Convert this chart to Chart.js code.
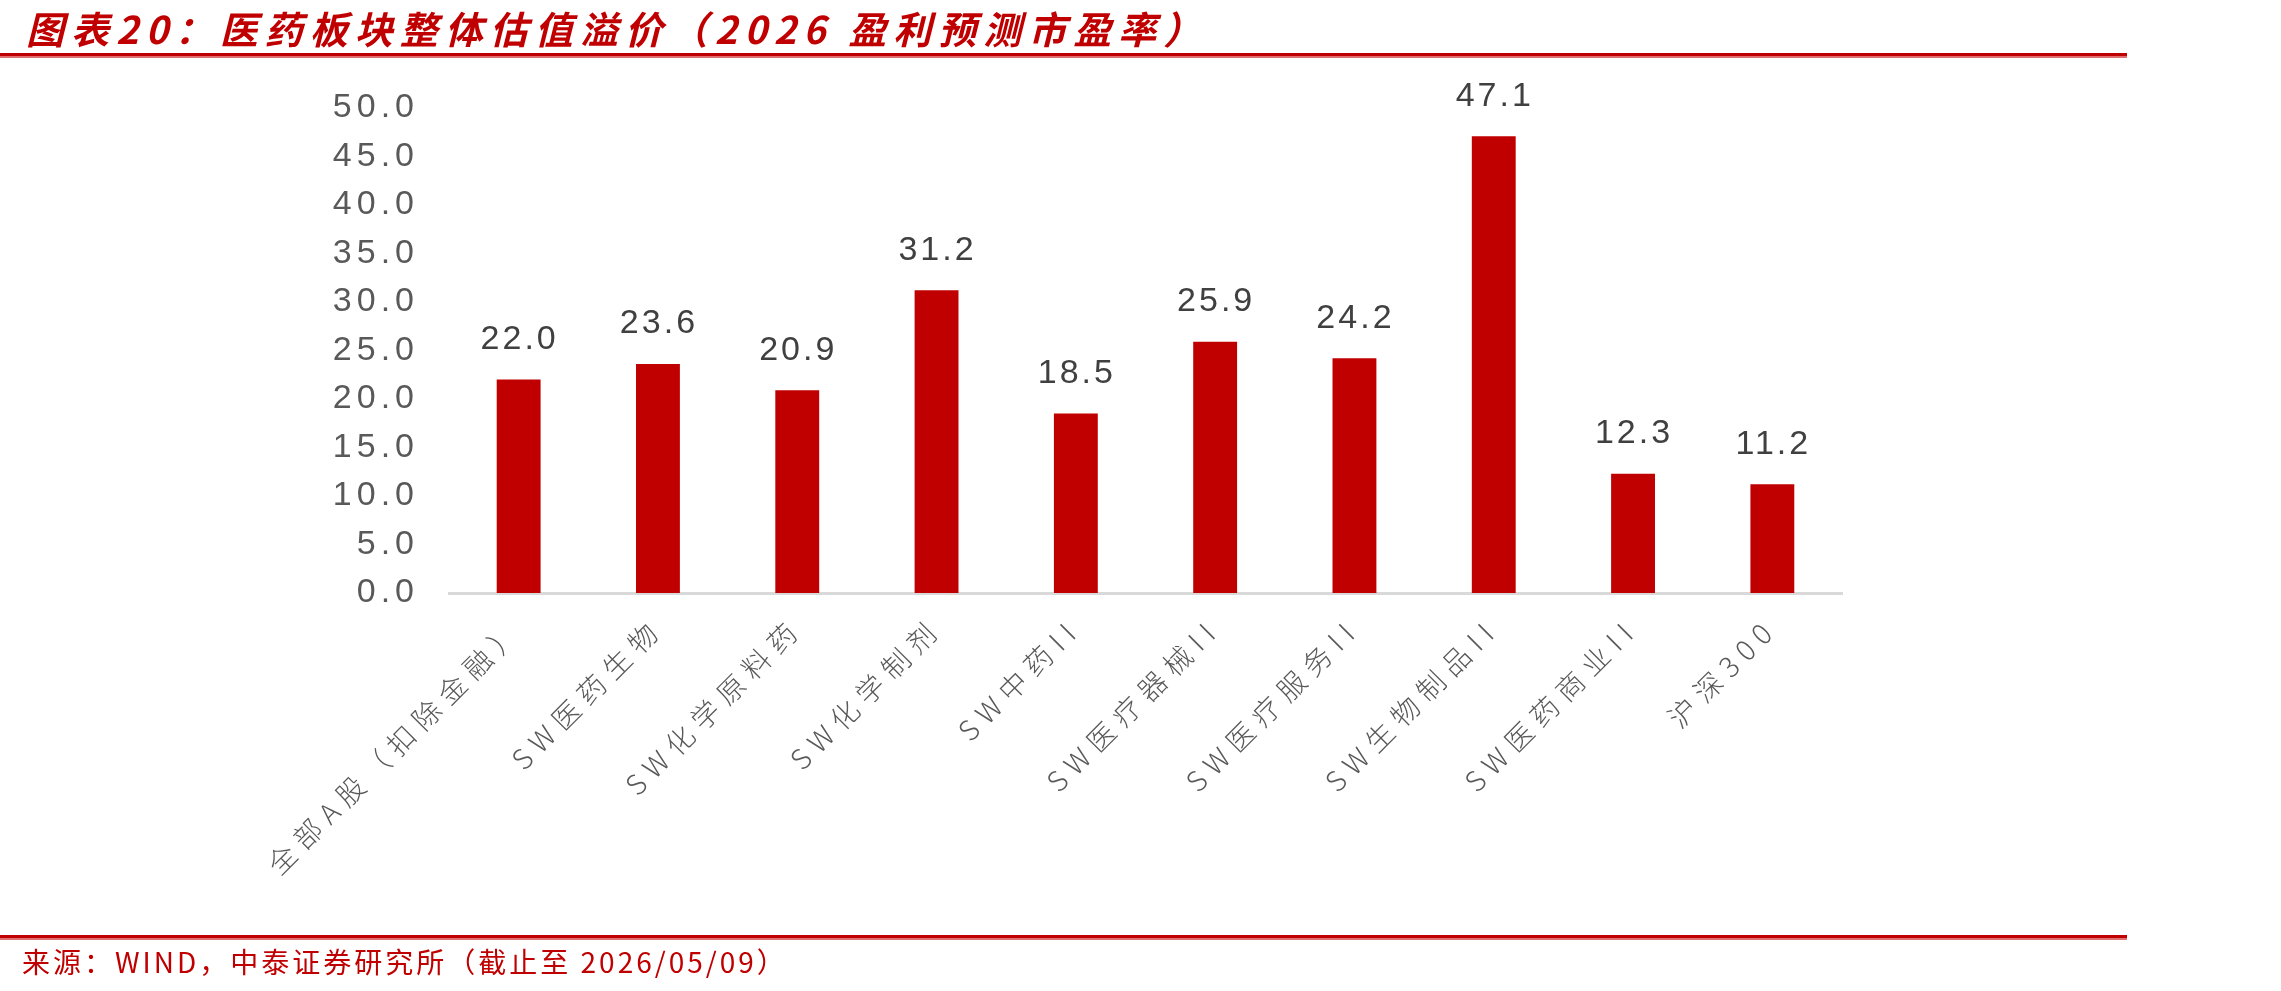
<!DOCTYPE html>
<html>
<head>
<meta charset="utf-8">
<script src="https://cdn.jsdelivr.net/npm/chart.js@4.4.1/dist/chart.umd.min.js"></script>
<style>
  html, body { margin: 0; padding: 0; background: #fff; }
  body { width: 2281px; height: 991px; position: relative; overflow: hidden; }
  #title { position: absolute; left: 26px; top: 3px; font-family: "Noto Sans CJK SC", sans-serif; font-weight: bold; font-style: italic; font-size: 38px; letter-spacing: 7px; color: #C00000; white-space: nowrap; line-height: 50px; }
  .rule { position: absolute; left: 0; width: 2127px; height: 3px; background: #C00000; border-bottom: 2px solid #E07070; }
  #rule1 { top: 53px; }
  #rule2 { top: 935px; }
  #source { position: absolute; left: 22px; top: 942px; font-family: "Noto Sans CJK SC", sans-serif; font-size: 28px; letter-spacing: 3px; color: #C00000; white-space: nowrap; line-height: 38px; }
  #wrap { position: absolute; left: 0; top: 0; width: 2281px; height: 991px; }
</style>
</head>
<body>
<div id="wrap"><canvas id="c" width="2281" height="991"></canvas></div>
<div id="title">图表20：医药板块整体估值溢价（2026 盈利预测市盈率）</div>
<div class="rule" id="rule1"></div>
<div class="rule" id="rule2"></div>
<div id="source">来源：WIND，中泰证券研究所（截止至 2026/05/09）</div>
<script>
const categories = ["全部A股（扣除金融）", "SW医药生物", "SW化学原料药", "SW化学制剂", "SW中药II", "SW医疗器械II", "SW医疗服务II", "SW生物制品II", "SW医药商业II", "沪深300"];
const peValues = [22.0, 23.6, 20.9, 31.2, 18.5, 25.9, 24.2, 47.1, 12.3, 11.2];
const yTicks = [0, 5, 10, 15, 20, 25, 30, 35, 40, 45, 50];

const valueLabels = {
  id: 'valueLabels',
  afterDatasetsDraw(chart) {
    const ctx = chart.ctx;
    const meta = chart.getDatasetMeta(0);
    ctx.save();
    ctx.letterSpacing = '3px';
    ctx.font = '34px "Liberation Sans"';
    ctx.fillStyle = '#404040';
    ctx.textAlign = 'center';
    ctx.textBaseline = 'middle';
    meta.data.forEach((bar, i) => {
      ctx.fillText(peValues[i].toFixed(1), bar.x + 1, bar.y - 40);
    });
    ctx.restore();
  }
};
function withSpacing(scale, sp) {
  if (scale._spWrapped) return;
  const orig = scale.drawLabels.bind(scale);
  scale.drawLabels = function (area) {
    const ctx = this.ctx;
    ctx.save();
    ctx.letterSpacing = sp;
    orig(area);
    ctx.restore();
  };
  scale._spWrapped = true;
}
const spacing = {
  id: 'spacing',
  afterLayout(chart) {
    withSpacing(chart.scales.x, '8px');
    withSpacing(chart.scales.y, '5px');
  }
};

new Chart(document.getElementById('c'), {
  type: 'bar',
  data: {
    labels: categories,
    datasets: [{
      data: peValues,
      backgroundColor: '#C00000',
      barPercentage: 0.315,
      categoryPercentage: 1.0
    }]
  },
  options: {
    responsive: false,
    animation: false,
    devicePixelRatio: 1,
    layout: { padding: { left: 0, right: 439, top: 108, bottom: 57 } },
    plugins: { legend: { display: false }, tooltip: { enabled: false }, title: { display: false } },
    scales: {
      x: {
        grid: { display: false, drawTicks: false },
        border: { display: true, color: '#D9D9D9', width: 3 },
        ticks: {
          color: '#595959',
          font: { family: '"Noto Sans CJK SC"', size: 28, weight: 300 },
          minRotation: 45, maxRotation: 45,
          padding: 18,
          autoSkip: false
        },
        afterFit(scale) { scale.height = 341; }
      },
      y: {
        min: 0, max: 50,
        afterBuildTicks(scale) { scale.ticks = yTicks.map(v => ({ value: v })); },
        grid: { display: false, drawTicks: false },
        border: { display: false },
        ticks: {
          color: '#595959',
          font: { family: '"Liberation Sans"', size: 34 },
          padding: 30,
          callback: v => Number(v).toFixed(1)
        },
        afterFit(scale) { scale.width = 449; }
      }
    }
  },
  plugins: [spacing, valueLabels]
});
</script>
</body>
</html>
